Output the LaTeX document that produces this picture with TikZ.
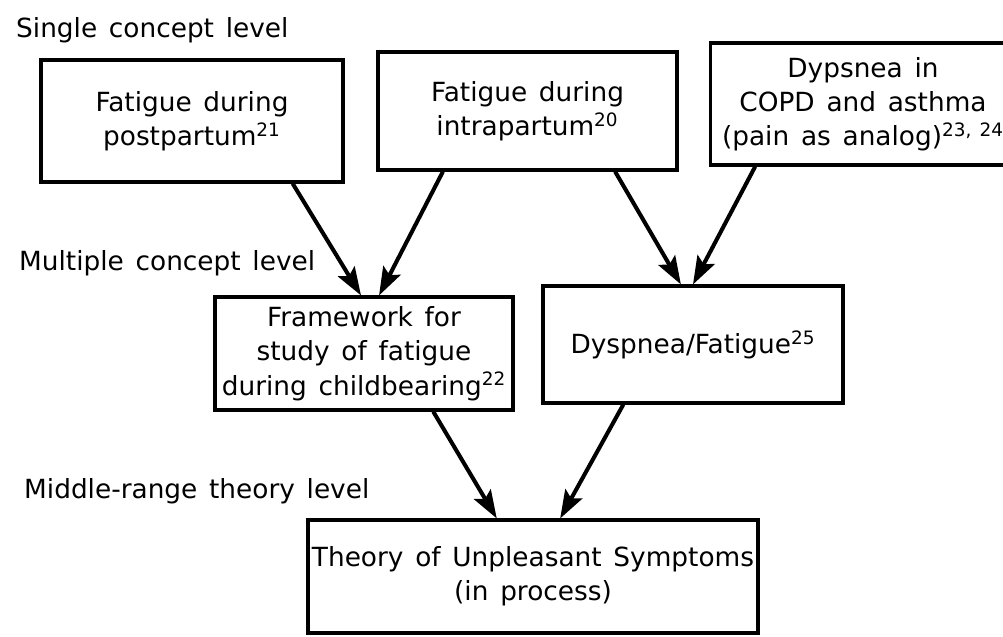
\documentclass[tikz,border=0pt]{standalone}
\usepackage{fontspec}
\setmainfont{DejaVu Sans}[WordSpace=1.4]
\usetikzlibrary{arrows.meta,calc}

\begin{document}
\begin{tikzpicture} [
        x = 0.02cm, y = -0.02cm,
        every node/.style = {font=\fontsize{15}{19.5}\selectfont},
        box/.style = {rectangle, draw, line width=1.8pt, align=center,
                      inner sep=0pt},
        lvl/.style = {anchor=base west},
        arr/.style = {line width=2.3pt,
                      -{Stealth[length=16pt, width=11pt, inset=3pt]}}
    ]
    \useasboundingbox (0,0) rectangle (1003,636);

    % levels
    \node (Single) [lvl] at (10,37) {Single concept level};
    \node (Multiple) [lvl] at (13,270) {Multiple concept level};
    \node (Middle) [lvl] at (18,498) {Middle-range theory level};

    % single concepts
    \node (Post) [box, minimum width=6.04cm, minimum height=2.44cm]
        at (192,121) {Fatigue during\\postpartum\textsuperscript{21}};
    \node (Intra) [box, minimum width=5.98cm, minimum height=2.36cm]
        at (527.5,111) {Fatigue during\\intrapartum\textsuperscript{20}};
    \node (Copd) [box, minimum width=6.1cm, minimum height=2.44cm]
        at (863,104) {Dypsnea in\\COPD and asthma\\(pain as analog)\textsuperscript{23, 24}};

    % multiple concepts
    \node (Frame) [box, minimum width=5.96cm, minimum height=2.26cm]
        at (364,353.5) {Framework for\\study of fatigue\\during childbearing\textsuperscript{22}};
    \node (Dysp) [box, minimum width=6.0cm, minimum height=2.34cm]
        at (693,344.5) {Dyspnea/Fatigue\textsuperscript{25}};

    % middle-range theory
    \node (Tous) [box, minimum width=9.0cm, minimum height=2.26cm]
        at (533,576.5) {Theory of Unpleasant Symptoms\\(in process)};

    \draw[arr] ($(Post.south west)!0.83!(Post.south east)$)
            -- ($(Frame.north west)!0.49!(Frame.north east)$);
    \draw[arr] ($(Intra.south west)!0.22!(Intra.south east)$)
            -- ($(Frame.north west)!0.55!(Frame.north east)$);
    \draw[arr] ($(Intra.south west)!0.79!(Intra.south east)$)
            -- ($(Dysp.north west)!0.46!(Dysp.north east)$);
    \draw[arr] ($(Copd.south west)!0.15!(Copd.south east)$)
            -- ($(Dysp.north west)!0.50!(Dysp.north east)$);
    \draw[arr] ($(Frame.south west)!0.73!(Frame.south east)$)
            -- ($(Tous.north west)!0.42!(Tous.north east)$);
    \draw[arr] ($(Dysp.south west)!0.27!(Dysp.south east)$)
            -- ($(Tous.north west)!0.56!(Tous.north east)$);

\end{tikzpicture}
\end{document}
